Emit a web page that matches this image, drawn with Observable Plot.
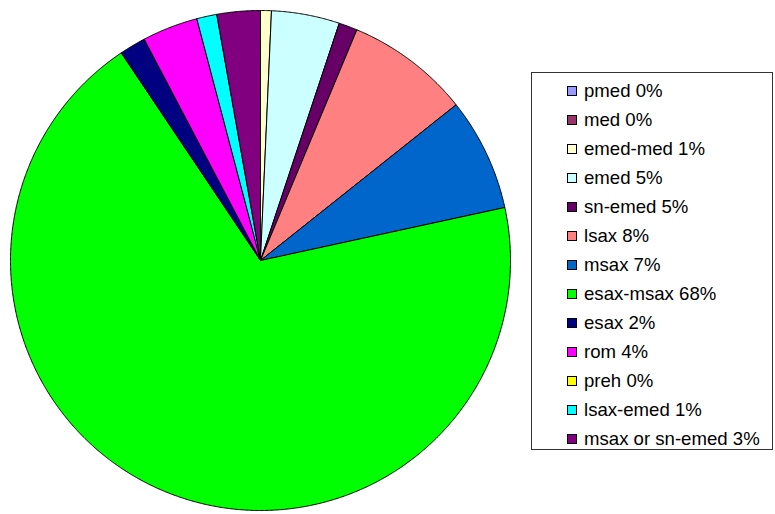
<!DOCTYPE html>
<html>
<head>
<meta charset="utf-8">
<script src="https://cdn.jsdelivr.net/npm/d3@7"></script>
<script src="https://cdn.jsdelivr.net/npm/@observablehq/plot@0.6"></script>
<style>
  body { margin: 0; background: #fff; font-family: "Liberation Sans", Arial, sans-serif; }
  #wrap { position: relative; width: 775px; height: 514px; }
  #legend { position: absolute; left: 531px; top: 72px; width: 240px; height: 376px;
            border: 1px solid #333; box-sizing: content-box; background: #fff; }
  .row { position: absolute; left: 0; height: 20px; display: flex; align-items: center; font-size: 18.6px; color: #000; white-space: nowrap; }
  .sw { width: 8px; height: 8px; border: 1px solid #000; margin-left: 35px; margin-right: 7px; flex: none; }
</style>
</head>
<body>
<div id="wrap"></div>
<script>
const categories = ["pmed", "med", "emed-med", "emed", "sn-emed", "lsax", "msax", "esax-msax", "esax", "rom", "preh", "lsax-emed", "msax or sn-emed"];
const values = [0, 0, 0.7, 4.4, 1.2, 8.0, 7.3, 69.0, 1.7, 3.6, 0, 1.3, 2.8];
const legendLabels = ["pmed 0%", "med 0%", "emed-med 1%", "emed 5%", "sn-emed 5%", "lsax 8%", "msax 7%", "esax-msax 68%", "esax 2%", "rom 4%", "preh 0%", "lsax-emed 1%", "msax or sn-emed 3%"];
const colors = ["#9999FF", "#993366", "#FFFFCC", "#CCFFFF", "#660066", "#FF8080", "#0066CC", "#00FF00", "#000080", "#FF00FF", "#FFFF00", "#00FFFF", "#800080"];

const data = categories.map((c, i) => ({category: c, value: values[i]}));
const arcs = d3.pie().sort(null).value(d => d.value)(data);

// Build slice outlines (unit circle, clockwise from 12 o'clock)
const pts = [];
arcs.forEach(a => {
  if (a.endAngle - a.startAngle <= 0) return;
  const c = a.data.category;
  pts.push({category: c, x: 0, y: 0});
  const n = Math.max(2, Math.ceil((a.endAngle - a.startAngle) / 0.005));
  for (let k = 0; k <= n; k++) {
    const t = a.startAngle + (a.endAngle - a.startAngle) * k / n;
    pts.push({category: c, x: Math.sin(t), y: Math.cos(t)});
  }
  pts.push({category: c, x: 0, y: 0});
});

const chart = Plot.plot({
  width: 775,
  height: 514,
  marginLeft: 10,
  marginRight: 265,
  marginTop: 10,
  marginBottom: 4,
  x: {domain: [-1, 1], axis: null},
  y: {domain: [-1, 1], axis: null},
  color: {domain: categories, range: colors},
  marks: [
    Plot.line(pts, {x: "x", y: "y", z: "category", fill: "category", stroke: "#000", strokeWidth: 1, curve: "linear", strokeLinejoin: "round"})
  ]
});
document.getElementById("wrap").appendChild(chart);

const legend = document.createElement("div");
legend.id = "legend";
legendLabels.forEach((lab, i) => {
  const row = document.createElement("div");
  row.className = "row";
  row.style.top = (8 + 29 * i) + "px";
  const sw = document.createElement("div");
  sw.className = "sw";
  sw.style.background = colors[i];
  const tx = document.createElement("span");
  tx.textContent = lab;
  row.appendChild(sw);
  row.appendChild(tx);
  legend.appendChild(row);
});
document.getElementById("wrap").appendChild(legend);
</script>
</body>
</html>
